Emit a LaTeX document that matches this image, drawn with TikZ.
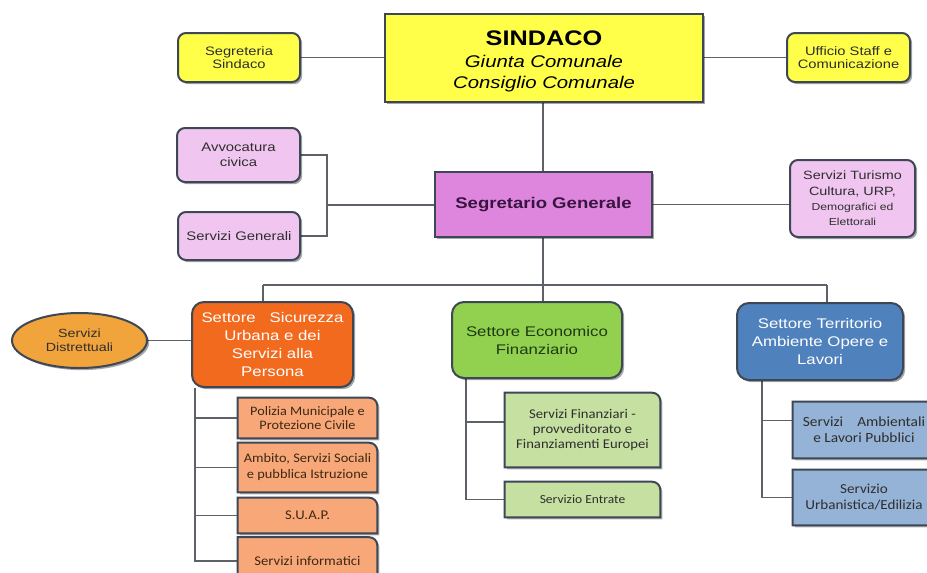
\documentclass[tikz,border=0pt]{standalone}
\usepackage{fontspec}
\setmainfont{Liberation Sans}[FakeStretch=1.2]
\newfontfamily\carlito{Carlito}[FakeStretch=1.1]
\usetikzlibrary{shapes.geometric,shadows,backgrounds}

\definecolor{edge}{HTML}{3E4756}
\definecolor{wirec}{HTML}{5E6268}
\definecolor{ylw}{HTML}{FFFF4A}
\definecolor{mag}{HTML}{DE86DE}
\definecolor{lilac}{HTML}{F0C6F0}
\definecolor{orng}{HTML}{F26A1E}
\definecolor{amber}{HTML}{F2A43C}
\definecolor{salmon}{HTML}{F8A878}
\definecolor{lime}{HTML}{92D050}
\definecolor{palegreen}{HTML}{C6E0A2}
\definecolor{steel}{HTML}{4F81BD}
\definecolor{skyb}{HTML}{95B3D7}
\definecolor{ink}{HTML}{2E2E2E}
\definecolor{plum}{HTML}{3A1440}
\definecolor{forest}{HTML}{1E3A10}
\definecolor{brownink}{HTML}{3D2814}

\tikzset{
  wh/.style 2 args={minimum width=#1*0.75pt, minimum height=#2*0.75pt},
  boxshadow/.style={drop shadow={shadow xshift=1.6pt, shadow yshift=-1.6pt, opacity=0.35, fill=black}},
  box/.style={draw=edge, line width=1.5pt, inner sep=0pt, align=center, boxshadow, text=ink},
  rbox/.style={box, rounded corners=6pt},
  sbox/.style={box, rounded corners=9pt, font=\fontsize{10.5}{13.5}\selectfont},
  smalltxt/.style={font=\fontsize{9.2}{10}\selectfont},
  midtxt/.style={font=\fontsize{9.3}{11.5}\selectfont},
  tabtxt/.style={inner sep=0pt, align=center, text=ink, font=\carlito\fontsize{10}{11.5}\selectfont},
  wire/.style={draw=wirec, line width=1pt},
}

% rectangle with a single rounded corner (top right), plus its shadow
\newcommand\tabshape[2]{%
  \fill[black, opacity=0.3]
    ([shift={(1.6pt,-1.6pt)}]#1.south west) -- ([shift={(1.6pt,-1.6pt)}]#1.north west)
    -- ([shift={(-4.4pt,-1.6pt)}]#1.north east) arc[start angle=90,end angle=0,radius=6pt]
    -- ([shift={(1.6pt,-1.6pt)}]#1.south east) -- cycle;
  \draw[draw=edge, line width=1.5pt, fill=#2]
    (#1.south west) -- (#1.north west) -- ([xshift=-6pt]#1.north east)
    arc[start angle=90,end angle=0,radius=6pt] -- (#1.south east) -- cycle;}

\begin{document}
\begin{tikzpicture}[x=0.75pt,y=-0.75pt]
\useasboundingbox (0,0) rectangle (927,572);

% top level
\node[box, fill=ylw, wh={318}{88}] (sind) at (544,58) {};
\node[align=center, inner sep=0pt, text=black, font=\fontsize{12.7}{16}\selectfont\itshape] (sindtxt) at (544,61.5)
  {{\fontsize{15.8}{16}\selectfont\bfseries\upshape SINDACO}\\Giunta Comunale\\Consiglio Comunale};
\node[rbox, fill=ylw, wh={122}{49}, smalltxt] (segr) at (239,57.5) {Segreteria\\Sindaco};
\node[rbox, fill=ylw, wh={123}{49}, smalltxt] (uff) at (848.5,57.5) {Ufficio Staff e\\Comunicazione};

% second level
\node[box, fill=mag, wh={217}{65}, text=plum, font=\fontsize{11.6}{14}\selectfont\bfseries] (sg) at (543.5,204.5) {Segretario Generale};
\node[rbox, fill=lilac, wh={123}{54}, midtxt] (avv) at (238.5,155) {Avvocatura\\civica};
\node[rbox, fill=lilac, wh={122}{48}, midtxt] (sgen) at (239,236) {Servizi Generali};
\node[rbox, fill=lilac, wh={125}{77}, font=\fontsize{9}{11.5}\selectfont] (tur) at (852.5,198.5)
  {Servizi Turismo\\Cultura, URP,\\{\fontsize{7.6}{10}\selectfont Demografici ed}\\{\fontsize{7.6}{10}\selectfont Elettorali}};

% sectors
\node[ellipse, draw=edge, line width=1.5pt, fill=amber, boxshadow, inner sep=0pt, align=center, text=ink,
      wh={135}{55}, font=\fontsize{8.9}{10.5}\selectfont] (dist) at (79.5,340.5) {Servizi\\Distrettuali};
\node[sbox, fill=orng, text=white, wh={161}{85}] (sic) at (272.5,344.5) {Settore\quad Sicurezza\\Urbana e dei\\Servizi alla\\Persona};
\node[sbox, fill=lime, text=forest, wh={170}{76}] (eco) at (537,340) {Settore Economico\\Finanziario};
\node[sbox, fill=steel, text=white, wh={166}{77}] (ter) at (820,341.5) {Settore Territorio\\Ambiente Opere e\\Lavori};

% offices
\node[tabtxt, text=brownink, wh={139}{40}, font=\carlito\fontsize{9.7}{10.5}\selectfont] (pol) at (307.5,418) {Polizia Municipale e\\Protezione Civile};
\node[tabtxt, text=brownink, wh={139}{49}, font=\carlito\fontsize{9.8}{12}\selectfont] (amb) at (307.5,467.5) {Ambito, Servizi Sociali\\e pubblica Istruzione};
\node[tabtxt, text=brownink, wh={139}{35}] (suap) at (307.5,515.5) {S.U.A.P.};
\node[tabtxt, text=brownink, wh={139}{47}] (inf) at (307.5,561) {Servizi informatici};
\node[tabtxt, wh={155}{74}] (fin) at (582.5,430) {Servizi Finanziari -\\provveditorato e\\Finanziamenti Europei};
\node[tabtxt, wh={155}{35}, font=\carlito\fontsize{9.2}{10}\selectfont] (ent) at (582.5,499.5) {Servizio Entrate};
\node[tabtxt, wh={142}{56}, font=\carlito\fontsize{10.5}{12}\selectfont] (amb2) at (864,430) {Servizi\quad Ambientali\\e Lavori Pubblici};
\node[tabtxt, wh={142}{55}, font=\carlito\fontsize{10.3}{12}\selectfont] (urb) at (864,497.5) {Servizio\\Urbanistica/Edilizia};

\begin{scope}[on background layer]
  \fill[white] (0,0) rectangle (927,572);
  % connectors
  \coordinate (spine) at (543,0);
  \coordinate (lj) at (327,205);
  \coordinate (bus) at (543,285);
  \coordinate (busL) at (263,285);
  \coordinate (busR) at (827,285);
  \coordinate (os) at (195,0);
  \coordinate (gs) at (466,0);
  \coordinate (bs) at (762,0);

  \draw[wire] (segr.east) -- (segr.east -| sind.west);
  \draw[wire] (uff.west) -- (uff.west -| sind.east);
  \draw[wire] (sind.south -| spine) -- (sg.north -| spine);
  \draw[wire] (avv.east) -| (lj) |- (sgen.east);
  \draw[wire] (lj) -- (lj -| sg.west);
  \draw[wire] (sg.east) -- (sg.east -| tur.west);
  \draw[wire] (sg.south -| spine) -- (bus);
  \draw[wire] (busL) -- (busR);
  \draw[wire] (busL) -- (busL |- sic.north);
  \draw[wire] (bus) -- (bus |- eco.north);
  \draw[wire] (busR) -- (busR |- ter.north);
  \draw[wire] (dist.east) -- (dist.east -| sic.west);

  \draw[wire] (sic.south -| os) |- (inf.west);
  \draw[wire] (pol.west -| os) -- (pol.west);
  \draw[wire] (amb.west -| os) -- (amb.west);
  \draw[wire] (suap.west -| os) -- (suap.west);

  \draw[wire] (eco.south -| gs) |- (ent.west);
  \draw[wire] ([yshift=6pt]fin.west -| gs) -- ([yshift=6pt]fin.west);

  \draw[wire] (ter.south -| bs) |- (urb.west);
  \draw[wire] ([yshift=7pt]amb2.west -| bs) -- ([yshift=7pt]amb2.west);

  % office boxes
  \tabshape{pol}{salmon}
  \tabshape{amb}{salmon}
  \tabshape{suap}{salmon}
  \tabshape{inf}{salmon}
  \tabshape{fin}{palegreen}
  \tabshape{ent}{palegreen}
  \tabshape{amb2}{skyb}
  \tabshape{urb}{skyb}
\end{scope}
\end{tikzpicture}
\end{document}
